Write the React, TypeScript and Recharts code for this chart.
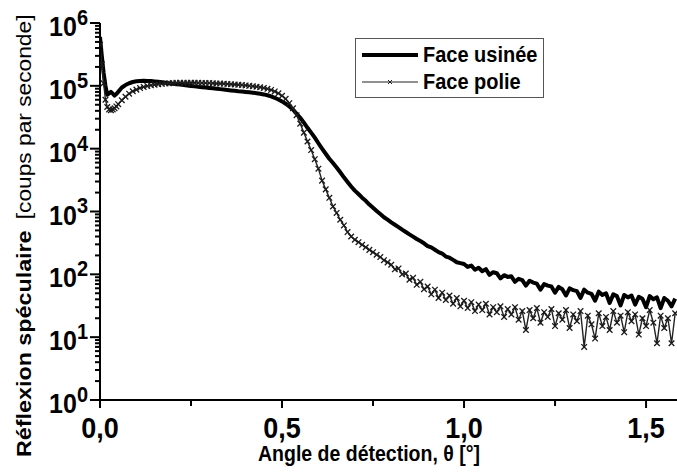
import React from 'react';
import { LineChart, Line, XAxis, YAxis, Legend } from 'recharts';

const angle = [
  0, 0.005, 0.01, 0.015, 0.02, 0.025, 0.03, 0.035, 0.04, 0.045, 0.05, 0.06, 0.07, 0.08, 0.09,
  0.10, 0.11, 0.12, 0.13, 0.14, 0.15, 0.16, 0.17, 0.18, 0.19, 0.20, 0.21, 0.22, 0.23, 0.24, 0.25,
  0.26, 0.27, 0.28, 0.29, 0.30, 0.31, 0.32, 0.33, 0.34, 0.35, 0.36, 0.37, 0.38, 0.39, 0.40, 0.41,
  0.42, 0.43, 0.44, 0.45, 0.46, 0.47, 0.48, 0.49, 0.50, 0.51, 0.52, 0.53, 0.54, 0.55, 0.56, 0.57,
  0.58, 0.59, 0.60,
  0.61, 0.62, 0.63, 0.64, 0.65, 0.66, 0.67, 0.68, 0.69, 0.70, 0.71, 0.72, 0.73, 0.74, 0.75, 0.76,
  0.77, 0.78, 0.79, 0.80, 0.81, 0.82, 0.83, 0.84, 0.85, 0.86, 0.87, 0.88, 0.89, 0.90, 0.91, 0.92,
  0.93, 0.94, 0.95, 0.96, 0.97, 0.98, 0.99,
  1.00, 1.01, 1.02, 1.03, 1.04, 1.05, 1.06, 1.07, 1.08, 1.09, 1.10, 1.11, 1.12, 1.13, 1.14, 1.15,
  1.16, 1.17, 1.18, 1.19, 1.20, 1.21, 1.22, 1.23, 1.24, 1.25, 1.26, 1.27, 1.28, 1.29, 1.30, 1.31,
  1.32, 1.33, 1.34, 1.35, 1.36, 1.37, 1.38, 1.39, 1.40, 1.41, 1.42, 1.43, 1.44, 1.45, 1.46, 1.47,
  1.48, 1.49, 1.50, 1.51, 1.52, 1.53, 1.54, 1.55, 1.56, 1.57, 1.58,
];

const faceUsinee = [
  600000, 300000, 160000, 100000, 72000, 76000, 80000, 75000, 70000, 74000, 80000, 94000, 103000, 110000, 115000,
  118000, 119500, 120000, 119800, 119000, 117500, 116000, 114000, 112000, 110000, 108000, 106300, 104600, 103000,
  101300, 99600, 98000, 96600, 95300, 94000, 92600, 91300, 90000, 88600, 87300, 86000, 84600, 83300, 82000, 81000,
  80000, 79000, 77800, 76500, 75000, 73000, 70800, 68000, 64500, 60500, 56500, 52000, 47000, 42000, 36000, 31000,
  26000, 21500, 18000, 15000, 12200,
  10000, 8300, 6900, 5900, 5000, 4200, 3500, 2950, 2500, 2150, 1900, 1660, 1480, 1290, 1150, 1020, 910, 810, 740,
  670, 615, 565, 515, 472, 432, 398, 365, 338, 312, 282, 268, 246, 226, 214, 192, 184, 170, 156, 151,
  146, 131, 138, 118, 127, 112, 121, 98, 108, 104, 86, 97, 91, 93, 76, 85, 81, 66, 79, 74, 71, 57, 70, 66, 64, 51,
  63, 58, 46, 60, 56, 54, 42, 57, 51, 49, 38, 53, 47, 50, 35, 48, 45, 32, 47, 43, 46, 33, 44, 41, 30, 45, 40, 43,
  29, 42, 38, 31, 41,
];

const facePolie = [
  450000, 220000, 110000, 60000, 46000, 42000, 41000, 42000, 44000, 47000, 51000, 59000, 67000, 75000, 82000,
  87000, 92000, 96000, 99000, 102000, 104000, 106000, 107500, 109000, 110000, 111000, 111500, 112000, 112000,
  112000, 112000, 112000, 111500, 111000, 111000, 110500, 110000, 109000, 108500, 108000, 107000, 106000, 105000,
  104000, 103000, 101500, 100000, 98500, 97000, 95000, 92500, 89500, 86000, 81500, 76000, 69500, 62000, 53000,
  44000, 34000, 25000, 18000, 13000, 9500, 6800, 4800,
  3100, 2250, 1650, 1200, 950, 740, 600, 470, 400, 355, 325, 295, 270, 245, 225, 205, 188, 168, 155, 142, 120, 124,
  100, 103, 82, 88, 68, 76, 58, 64, 48, 57, 42, 51, 39, 46, 34, 42, 31,
  38, 29, 36, 26, 33, 27, 34, 23, 30, 25, 31, 21, 28, 23, 30, 19, 26, 13, 27, 20, 29, 17, 25, 21, 28, 15, 24, 19,
  27, 14, 23, 18, 26, 7, 22, 16, 9.5, 24, 15, 21, 13, 26, 17, 22, 12, 25, 18, 23, 11, 20, 15, 27, 17, 8, 22, 14,
  20, 8, 24,
];

const xMajorTicks = [0, 0.5, 1, 1.5];
const xMinorTicks = [0.25, 0.75, 1.25];
const xTickLabels = ['0,0', '0,5', '1,0', '1,5'];
const yMajorTicks = [1, 10, 100, 1000, 10000, 100000, 1000000];
const yTickExponents = ['0', '1', '2', '3', '4', '5', '6'];
const yMinorFactors = [2, 3, 4, 5, 6, 7, 8, 9];

const seriesNames = ['Face usinée', 'Face polie'];
const xTitle = 'Angle de détection, θ [°]';
const yTitleBold = 'Réflexion spéculaire';
const yTitleNormal = '[coups par seconde]';

const FONT = '"Liberation Sans", Arial, Helvetica, sans-serif';
const STRETCH = 1.11;

const data = angle.map((a, i) => ({ angle: a, usinee: faceUsinee[i], polie: facePolie[i] }));

const xTicks = [...xMajorTicks, ...xMinorTicks].sort((a, b) => a - b);
const yTicks = [
  ...yMajorTicks,
  ...yMajorTicks.slice(0, -1).flatMap((d) => yMinorFactors.map((f) => f * d)),
].sort((a, b) => a - b);

const XTick = (props: any) => {
  const { x, y, payload } = props;
  const idx = xMajorTicks.indexOf(payload.value);
  const major = idx >= 0;
  return (
    <g>
      <line x1={x} x2={x} y1={y} y2={y + (major ? 8 : 6)} stroke="#000" strokeWidth={2} />
      {major && (
        <text
          transform={`translate(${x},${y + 38}) scale(1,${STRETCH})`}
          textAnchor="middle"
          fontFamily={FONT}
          fontWeight="bold"
          fontSize={27}
          fill="#000"
        >
          {xTickLabels[idx]}
        </text>
      )}
    </g>
  );
};

const YTick = (props: any) => {
  const { x, y, payload } = props;
  const idx = yMajorTicks.indexOf(payload.value);
  const major = idx >= 0;
  return (
    <g>
      <line x1={x - (major ? 10 : 5)} x2={x} y1={y} y2={y} stroke="#000" strokeWidth={2} />
      {major && (
        <text
          transform={`translate(${x - 12},${y + 13}) scale(1,${STRETCH})`}
          textAnchor="end"
          fontFamily={FONT}
          fontWeight="bold"
          fill="#000"
        >
          <tspan fontSize={25}>10</tspan>
          <tspan fontSize={20} dy={-10}>{yTickExponents[idx]}</tspan>
        </text>
      )}
    </g>
  );
};

const CrossDot = (props: any) => {
  const { cx, cy, index } = props;
  if (cx == null || cy == null) return <g key={`c${index}`} />;
  const s = 2.8;
  return (
    <path
      key={`c${index}`}
      d={`M${cx - s},${cy - s}L${cx + s},${cy + s}M${cx + s},${cy - s}L${cx - s},${cy + s}`}
      stroke="#1a1a1a"
      strokeWidth={1.3}
      fill="none"
    />
  );
};

const LegendBox = () => (
  <svg width={190} height={61} style={{ display: 'block' }}>
    <rect x={0.5} y={0.5} width={188} height={59} fill="#fff" stroke="#555" strokeWidth={1} />
    <line x1={7} x2={63} y1={17} y2={17} stroke="#000" strokeWidth={4} />
    <text transform={`translate(68,24) scale(1,${STRETCH})`} fontFamily={FONT} fontWeight="bold" fontSize={20} fill="#000">
      {seriesNames[0]}
    </text>
    <line x1={7} x2={63} y1={44} y2={44} stroke="#222" strokeWidth={1} />
    <path d="M33,42L37,46M37,42L33,46" stroke="#222" strokeWidth={1} />
    <text transform={`translate(68,51) scale(1,${STRETCH})`} fontFamily={FONT} fontWeight="bold" fontSize={20} fill="#000">
      {seriesNames[1]}
    </text>
  </svg>
);

export default function App() {
  return (
    <div style={{ position: 'absolute', left: 0, top: 0, width: 677, height: 473, background: '#fff' }}>
      <LineChart width={677} height={473} data={data} margin={{ top: 23, right: 0, bottom: 0, left: 0 }}>
        <XAxis
          dataKey="angle"
          type="number"
          domain={[0, 1.585]}
          allowDataOverflow
          ticks={xTicks}
          interval={0}
          height={73}
          tickSize={0}
          tickMargin={0}
          tickLine={false}
          axisLine={{ stroke: '#000', strokeWidth: 2 }}
          tick={<XTick />}
          label={() => (
            <text
              transform={`translate(369,461) scale(1,${STRETCH})`}
              textAnchor="middle"
              fontFamily={FONT}
              fontWeight="bold"
              fontSize={19.5}
              fill="#000"
            >
              {xTitle}
            </text>
          )}
        />
        <YAxis
          type="number"
          scale="log"
          domain={[1, 1000000]}
          allowDataOverflow
          ticks={yTicks}
          interval={0}
          width={100}
          tickSize={0}
          tickMargin={0}
          tickLine={false}
          axisLine={{ stroke: '#000', strokeWidth: 2 }}
          tick={<YTick />}
          label={() => (
            <text
              transform={`translate(31,457) rotate(-90) scale(${STRETCH},1)`}
              fontFamily={FONT}
              fill="#000"
            >
              <tspan fontWeight="bold" fontSize={21}>{yTitleBold}</tspan>
              <tspan dx={10} fontSize={20.5}>{yTitleNormal}</tspan>
            </text>
          )}
        />
        <Legend
          layout="horizontal"
          verticalAlign="middle"
          align="center"
          wrapperStyle={{ position: 'absolute', left: 355, top: 38, width: 190, height: 61, margin: 0 }}
          content={() => <LegendBox />}
        />
        <Line
          dataKey="usinee"
          name={seriesNames[0]}
          type="linear"
          stroke="#000"
          strokeWidth={4}
          strokeLinejoin="round"
          dot={false}
          isAnimationActive={false}
        />
        <Line
          dataKey="polie"
          name={seriesNames[1]}
          type="linear"
          stroke="#222"
          strokeWidth={1.4}
          dot={CrossDot}
          isAnimationActive={false}
        />
      </LineChart>
    </div>
  );
}
